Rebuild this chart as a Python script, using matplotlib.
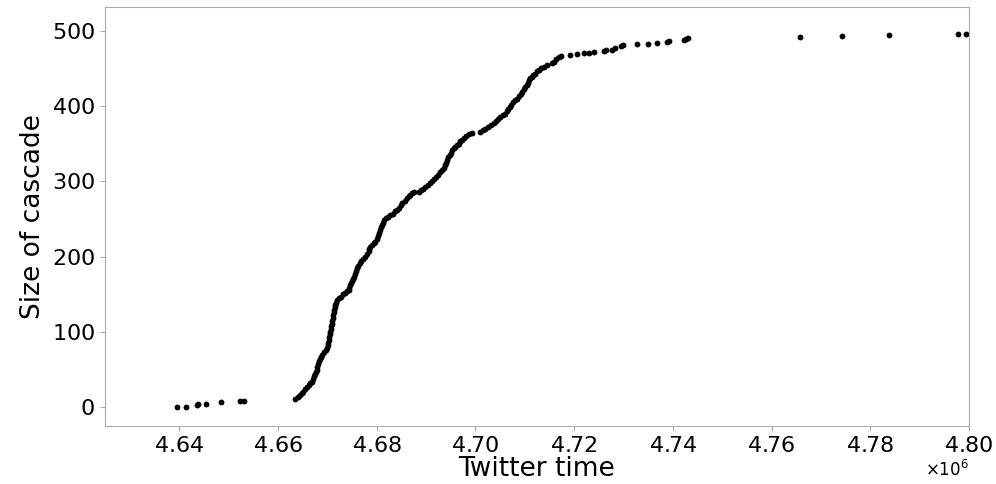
import matplotlib
matplotlib.use("Agg")
import matplotlib.pyplot as plt

plt.rcParams['axes.formatter.use_mathtext'] = True

# twitter time (x 1e6) of each point
times = [
    4.63953, 4.64142, 4.64359, 4.64385, 4.64547, 4.64845, 4.65236, 4.65317,
    4.66351, 4.66398, 4.66440, 4.66482, 4.66517, 4.66552, 4.66588, 4.66622,
    4.66656, 4.66689, 4.66705, 4.66721, 4.66744, 4.66767, 4.66790, 4.66801,
    4.66812, 4.66823, 4.66846, 4.66869, 4.66892, 4.66930, 4.66969, 4.66989,
    4.67009, 4.67019, 4.67030, 4.67040, 4.67050, 4.67060, 4.67071, 4.67082,
    4.67090, 4.67101, 4.67111, 4.67121, 4.67132, 4.67141, 4.67152, 4.67161,
    4.67184, 4.67206, 4.67228, 4.67275, 4.67323, 4.67359, 4.67395, 4.67431,
    4.67449, 4.67467, 4.67485, 4.67501, 4.67518, 4.67532, 4.67555, 4.67578,
    4.67601, 4.67630, 4.67659, 4.67688, 4.67725, 4.67762, 4.67799, 4.67836,
    4.67853, 4.67870, 4.67904, 4.67938, 4.67972, 4.67997, 4.68022, 4.68048,
    4.68073, 4.68090, 4.68107, 4.68123, 4.68140, 4.68185, 4.68231, 4.68276,
    4.68321, 4.68366, 4.68411, 4.68447, 4.68483, 4.68519, 4.68566, 4.68614,
    4.68648, 4.68681, 4.68722, 4.68762, 4.68857, 4.68900, 4.68943, 4.68985,
    4.69035, 4.69086, 4.69127, 4.69167, 4.69208, 4.69245, 4.69282, 4.69319,
    4.69356, 4.69381, 4.69406, 4.69431, 4.69455, 4.69479, 4.69502, 4.69526,
    4.69560, 4.69594, 4.69627, 4.69660, 4.69694, 4.69735, 4.69775, 4.69818,
    4.69862, 4.69927, 4.70089, 4.70145, 4.70201, 4.70260, 4.70318, 4.70367,
    4.70415, 4.70464, 4.70508, 4.70552, 4.70596, 4.70640, 4.70669, 4.70698,
    4.70727, 4.70766, 4.70805, 4.70843, 4.70879, 4.70915, 4.70950, 4.70982,
    4.71014, 4.71046, 4.71068, 4.71091, 4.71113, 4.71143, 4.71173, 4.71210,
    4.71248, 4.71291, 4.71335, 4.71393, 4.71451, 4.71552, 4.71595, 4.71639,
    4.71690, 4.71740, 4.71923, 4.72059, 4.72193, 4.72294, 4.72395, 4.72598,
    4.72652, 4.72768, 4.72835, 4.72946, 4.72991, 4.73275, 4.73494, 4.73680,
    4.73883, 4.73915, 4.74219, 4.74263, 4.74314, 4.76584, 4.77420, 4.78387,
    4.79771, 4.79947,
]

# size of cascade at that time
sizes = [
    0, 1, 3, 4, 5, 7, 8, 9,
    11, 14, 16, 19, 21, 24, 27, 29,
    32, 34, 37, 41, 44, 47, 50, 54,
    57, 61, 64, 67, 70, 73, 76, 79,
    83, 86, 90, 93, 97, 100, 104, 108,
    111, 115, 119, 122, 126, 129, 133, 136,
    139, 142, 145, 147, 150, 152, 154, 156,
    159, 162, 165, 168, 171, 173, 177, 181,
    185, 188, 191, 194, 197, 200, 203, 207,
    210, 213, 215, 218, 220, 224, 228, 232,
    236, 239, 242, 245, 249, 251, 253, 255,
    257, 260, 262, 265, 268, 271, 274, 278,
    280, 282, 284, 286, 286, 288, 290, 293,
    295, 298, 301, 303, 306, 309, 312, 315,
    318, 322, 325, 328, 332, 335, 338, 342,
    344, 346, 348, 350, 353, 355, 358, 360,
    363, 364, 365, 368, 370, 372, 375, 378,
    380, 383, 385, 388, 390, 393, 396, 399,
    402, 405, 408, 410, 413, 416, 419, 422,
    425, 428, 431, 434, 437, 439, 441, 443,
    446, 448, 450, 452, 455, 457, 459, 462,
    465, 467, 468, 469, 470, 471, 472, 473,
    474, 475, 477, 480, 481, 482, 483, 484,
    485, 487, 488, 489, 490, 491, 493, 494,
    495, 496,
]

xses = [t * 1e6 for t in times]

fig = plt.figure(figsize=(9.96, 4.84), dpi=100)
ax = fig.add_axes([0.1051, 0.1198, 0.8678, 0.8664])

ax.plot(xses, sizes, 'o', color='black', markersize=4.2, markeredgewidth=0)

ax.set_xlim(4.6249e6, 4.80e6)
ax.set_ylim(-24.8, 531.9)

ax.set_xlabel("Twitter time", fontsize=19, labelpad=0)
ax.set_ylabel("Size of cascade", fontsize=19, labelpad=4)
ax.tick_params(labelsize=16, color='#aaaaaa', length=3.5)
ax.xaxis.get_offset_text().set_fontsize(12)

for sp in ax.spines.values():
    sp.set_color('#aaaaaa')

fig.savefig("out.png", dpi=100)
